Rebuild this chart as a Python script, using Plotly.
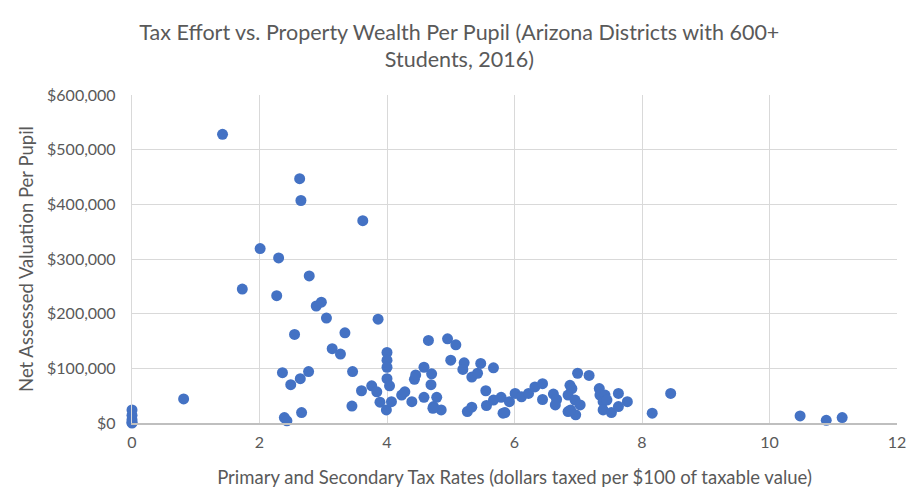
import plotly.graph_objects as go

# tax rate (dollars per $100 of taxable value)
tax_rate = [
    0, 0, 0, 0, 0, 0.81, 1.42, 2.63, 2.65, 3.62,
    2.01, 2.30, 2.78, 1.73, 2.27, 2.89, 2.97, 3.05, 3.86, 2.55,
    3.34, 3.14, 3.27, 2.36, 2.77, 3.46, 2.49, 2.64, 3.60, 3.76,
    3.84, 3.89, 3.99, 4.00, 4.00, 4.00, 4.00, 4.04, 4.07, 4.23,
    4.28, 4.39, 4.43, 4.45, 3.45, 2.39, 2.43, 2.66, 4.58, 4.70,
    4.69, 4.65, 4.58, 4.73, 4.78, 4.85, 4.72, 4.95, 5.08, 5.00,
    5.21, 5.19, 5.33, 5.42, 5.47, 5.67, 5.55, 5.26, 5.33, 5.56,
    5.67, 5.79, 5.82, 5.85, 5.92, 6.01, 6.11, 6.22, 6.32, 6.44,
    6.44, 6.61, 6.66, 6.64, 6.87, 6.90, 6.99, 7.17, 6.84, 6.95,
    7.03, 6.84, 6.96, 6.88, 7.33, 7.34, 7.42, 7.39, 7.45, 7.39,
    7.52, 7.63, 7.63, 7.77, 8.16, 8.45, 10.48, 10.89, 11.14,
]

# net assessed valuation per pupil ($)
valuation = [
    24000, 14000, 6000, 1000, 0, 44000, 528000, 447000, 407000, 370000,
    319000, 302000, 269000, 245000, 233000, 214000, 221000, 192000, 190000, 162000,
    165000, 136000, 126000, 92000, 94000, 94000, 70000, 81000, 59000, 68000,
    57000, 38000, 24000, 129000, 115000, 102000, 81000, 68000, 39000, 51000,
    57000, 39000, 80000, 88000, 31000, 10000, 4000, 19000, 102000, 90000,
    70000, 151000, 47000, 30000, 47000, 24000, 27000, 154000, 143000, 115000,
    110000, 98000, 84000, 91000, 109000, 101000, 59000, 21000, 29000, 32000,
    42000, 47000, 18000, 19000, 39000, 54000, 48000, 54000, 66000, 72000,
    43000, 53000, 43000, 33000, 69000, 63000, 91000, 87000, 51000, 42000,
    33000, 21000, 15000, 24000, 63000, 51000, 51000, 39000, 42000, 24000,
    19000, 54000, 30000, 39000, 18000, 54000, 13000, 5000, 10000,
]

txt = '#595959'
grid = '#d9d9d9'

fig = go.Figure()
fig.add_trace(go.Scatter(
    x=tax_rate, y=valuation, mode='markers',
    marker=dict(color='#4472c4', size=11, line=dict(width=0)),
    cliponaxis=False, showlegend=False,
))

# page body has an 8px margin, so the margins are shifted to compensate
fig.update_layout(
    width=923, height=500,
    margin=dict(l=124, r=34, t=87, b=85),
    paper_bgcolor='white', plot_bgcolor='white',
    font=dict(family='Lato', color=txt, size=16),
    title=dict(
        text='Tax Effort vs. Property Wealth Per Pupil (Arizona Districts with 600+<br>Students, 2016)',
        x=0.489, xanchor='center', yref='container', y=0.937, yanchor='top',
        font=dict(size=21.5, color=txt),
    ),
)
fig.update_xaxes(
    range=[0, 12], dtick=2, tick0=0,
    showgrid=True, gridcolor=grid, gridwidth=1.3,
    zeroline=False, showline=True, linecolor='#bfbfbf', linewidth=1.5,
    ticks='', ticklabelstandoff=4, tickfont=dict(size=16, color=txt),
    automargin=False,
    title=dict(text='Primary and Secondary Tax Rates (dollars taxed per $100 of taxable value)',
               font=dict(size=18.5, color=txt), standoff=21),
)
fig.update_yaxes(
    range=[0, 600000], dtick=100000,
    tickprefix='$', tickformat=',',
    showgrid=True, gridcolor=grid, gridwidth=1.3,
    zeroline=False, showline=True, linecolor=grid, linewidth=1.3,
    ticks='', ticklabelstandoff=12, tickfont=dict(size=16, color=txt),
    automargin=False,
    title=dict(text='Net Assessed Valuation Per Pupil', font=dict(size=18.5, color=txt), standoff=8),
)

fig.write_html('out.html')
